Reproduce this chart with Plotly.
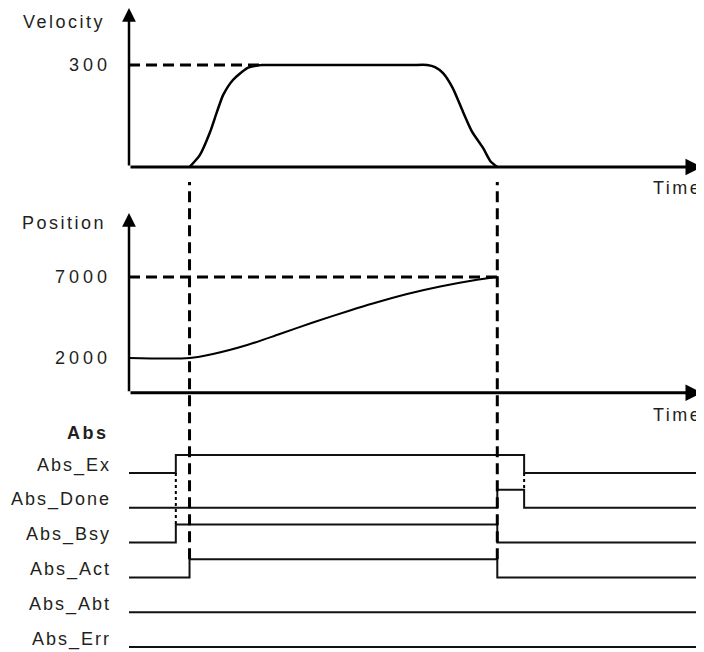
"""Timing diagram for the Abs (absolute move) function block."""

import plotly.graph_objects as go

# ---- data -------------------------------------------------------------
# time axis runs 0..100 (arbitrary units)
T_EX_ON = 8.2        # Abs_Ex / Abs_Bsy rise
T_MOVE_START = 10.6  # motion starts, Abs_Act rises
T_MOVE_END = 64.5    # motion ends, Abs_Done rises
T_EX_OFF = 69.2      # Abs_Ex and Abs_Done fall
T_LAST = 100.5

VEL_TARGET = 300
VEL_T = [10.6, 12.4, 14.2, 15.4, 16.5, 18.2, 20.7, 22.0, 23.3, 26.0,
         49.5, 52.2, 53.6, 55.0, 56.7, 58.5, 60.1, 62.0, 63.3, 64.5]
VEL_V = [0, 35, 103, 162, 212, 256, 291, 297, 300, 300,
         300, 300, 294, 276, 232, 162, 103, 56, 17, 0]

POS_START = 2000
POS_TARGET = 7000
POS_T = [0, 10.6, 14.7, 20.7, 26.4, 32.2, 38.7, 42.7, 48.7, 54.5, 60.2, 64.5]
POS_V = [2000, 2000, 2247, 2802, 3482, 4191, 4932, 5364, 5951, 6414, 6784, 7000]

SIGNAL_NAMES = ['Abs_Ex', 'Abs_Done', 'Abs_Bsy', 'Abs_Act', 'Abs_Abt', 'Abs_Err']
SIGNAL_T = [
    [0, T_EX_ON, T_EX_OFF, T_LAST],
    [0, T_MOVE_END, T_EX_OFF, T_LAST],
    [0, T_EX_ON, T_MOVE_END, T_LAST],
    [0, T_MOVE_START, T_MOVE_END, T_LAST],
    [0, T_LAST],
    [0, T_LAST],
]
SIGNAL_LEVEL = [
    [0, 1, 0, 0],
    [0, 1, 0, 0],
    [0, 1, 0, 0],
    [0, 1, 0, 0],
    [0, 0],
    [0, 0],
]

# ---- layout geometry (page pixels; the page body adds an 8px margin) ----
PAGE_W, PAGE_H = 704, 652
OFF = 8
W, H = PAGE_W - OFF, PAGE_H - OFF
X0_PX = 129
PX_PER_T = 5.71
V_ZERO_PX, V_300_PX = 167, 65
P_2000_PX, P_7000_PX = 358, 277
SIG_ROW0_PX, SIG_ROW_PX = 473, 34.8
SIG_HIGH = 0.52

INK = '#231f20'
FONT = 'Liberation Sans, Arial, sans-serif'


def spaced(text, gap=2.5, bold=False):
    """Wrap text in a span with wide letter spacing, like the original artwork."""
    inner = f'<span style="letter-spacing:{gap}px">{text}</span>'
    return f'<b>{inner}</b>' if bold else inner


def paper_x(px):
    return (px - OFF) / W


def paper_y(px):
    return 1 - (px - OFF) / H


k_vel = (V_ZERO_PX - V_300_PX) / VEL_TARGET
k_pos = (P_2000_PX - P_7000_PX) / (POS_TARGET - POS_START)


def vel_at(px):
    return (V_ZERO_PX - px) / k_vel


def pos_at(px):
    return POS_START + (P_2000_PX - px) / k_pos


def sig_at(px):
    return (SIG_ROW0_PX - px) / SIG_ROW_PX


def t_at(px):
    return (px - X0_PX) / PX_PER_T


fig = go.Figure()

# velocity profile
fig.add_trace(go.Scatter(x=VEL_T, y=VEL_V, mode='lines', yaxis='y',
                         line=dict(color='black', width=2.5, shape='spline', smoothing=0.6),
                         hoverinfo='skip'))
fig.add_trace(go.Scatter(x=[0, VEL_T[VEL_V.index(VEL_TARGET)]], y=[VEL_TARGET] * 2,
                         mode='lines', yaxis='y',
                         line=dict(color='black', width=3, dash='11px,6px'),
                         hoverinfo='skip'))

# position profile
fig.add_trace(go.Scatter(x=POS_T, y=POS_V, mode='lines', yaxis='y2',
                         line=dict(color='black', width=2, shape='spline', smoothing=0.8),
                         hoverinfo='skip'))
fig.add_trace(go.Scatter(x=[0, T_MOVE_END], y=[POS_TARGET] * 2, mode='lines', yaxis='y2',
                         line=dict(color='black', width=3, dash='11px,6px'),
                         hoverinfo='skip'))

# digital signals
for row, (ts, lv) in enumerate(zip(SIGNAL_T, SIGNAL_LEVEL)):
    fig.add_trace(go.Scatter(x=ts, y=[-row + v * SIG_HIGH for v in lv], mode='lines',
                             yaxis='y3', line=dict(color='#111', width=2, shape='hv'),
                             hoverinfo='skip'))

# dotted cause/effect links
fig.add_trace(go.Scatter(x=[T_EX_ON, T_EX_ON], y=[0, -2 + SIG_HIGH], mode='lines', yaxis='y3',
                         line=dict(color='black', width=2, dash='3px,3px'), hoverinfo='skip'))
fig.add_trace(go.Scatter(x=[T_EX_OFF, T_EX_OFF], y=[0, -1 + SIG_HIGH], mode='lines', yaxis='y3',
                         line=dict(color='black', width=2, dash='3px,3px'), hoverinfo='skip'))

# long dashed markers for start and end of motion
shapes = []
for t in [T_MOVE_START, T_MOVE_END]:
    shapes.append(dict(type='line', xref='x', yref='y3', x0=t, x1=t,
                       y0=-3 + SIG_HIGH, y1=sig_at(182),
                       line=dict(color='black', width=3, dash='11px,6px')))

# axis arrows
arrow = dict(text='', showarrow=True, arrowhead=2, arrowsize=1.1, arrowwidth=2.5,
             arrowcolor='black', standoff=0, axref='x', xref='x')
x_tip = t_at(702)
annotations = [
    dict(arrow, x=x_tip, y=0, ax=0, ay=0, yref='y', ayref='y', arrowwidth=3),
    dict(arrow, x=0, y=vel_at(8), ax=0, ay=0, yref='y', ayref='y'),
    dict(arrow, x=x_tip, y=pos_at(392.7), ax=0, ay=pos_at(392.7), yref='y2',
         ayref='y2', arrowwidth=3),
    dict(arrow, x=0, y=pos_at(213), ax=0, ay=pos_at(392.7), yref='y2', ayref='y2'),
]

text_font = dict(family=FONT, size=18, color=INK)
labels = [
    ('Velocity', 107, 22, 'right', False),
    ('Time', 651, 188, 'left', False),
    ('Position', 108, 223, 'right', False),
    ('Time', 651, 415, 'left', False),
    ('Abs', 111, 433, 'right', True),
]
for txt, xpx, ypx, anchor, bold in labels:
    annotations.append(dict(text=spaced(txt, bold=bold), x=paper_x(xpx), y=paper_y(ypx),
                            xref='paper', yref='paper', xanchor=anchor, yanchor='middle',
                            showarrow=False, font=text_font))

common_y = dict(anchor='free', position=paper_x(X0_PX), showgrid=False, zeroline=False,
                showline=False, ticks='', ticklabelstandoff=18, tickfont=text_font,
                fixedrange=True)

fig.update_layout(
    width=W, height=H,
    margin=dict(l=0, r=0, t=0, b=0, autoexpand=False),
    plot_bgcolor='white', paper_bgcolor='white',
    showlegend=False,
    xaxis=dict(range=[t_at(OFF), t_at(OFF + W)], visible=False, fixedrange=True),
    yaxis=dict(common_y, range=[vel_at(OFF + H), vel_at(OFF)],
               tickvals=[VEL_TARGET], ticktext=[spaced(str(VEL_TARGET), 4)]),
    yaxis2=dict(common_y, overlaying='y', range=[pos_at(OFF + H), pos_at(OFF)],
                tickvals=[POS_START, POS_TARGET],
                ticktext=[spaced(str(POS_START), 4), spaced(str(POS_TARGET), 4)]),
    yaxis3=dict(common_y, overlaying='y', range=[sig_at(OFF + H), sig_at(OFF)],
                tickvals=[-i + 0.25 for i in range(len(SIGNAL_NAMES))],
                ticktext=[spaced(n, 2) for n in SIGNAL_NAMES]),
    shapes=shapes,
    annotations=annotations,
)

fig.write_html("out.html")
